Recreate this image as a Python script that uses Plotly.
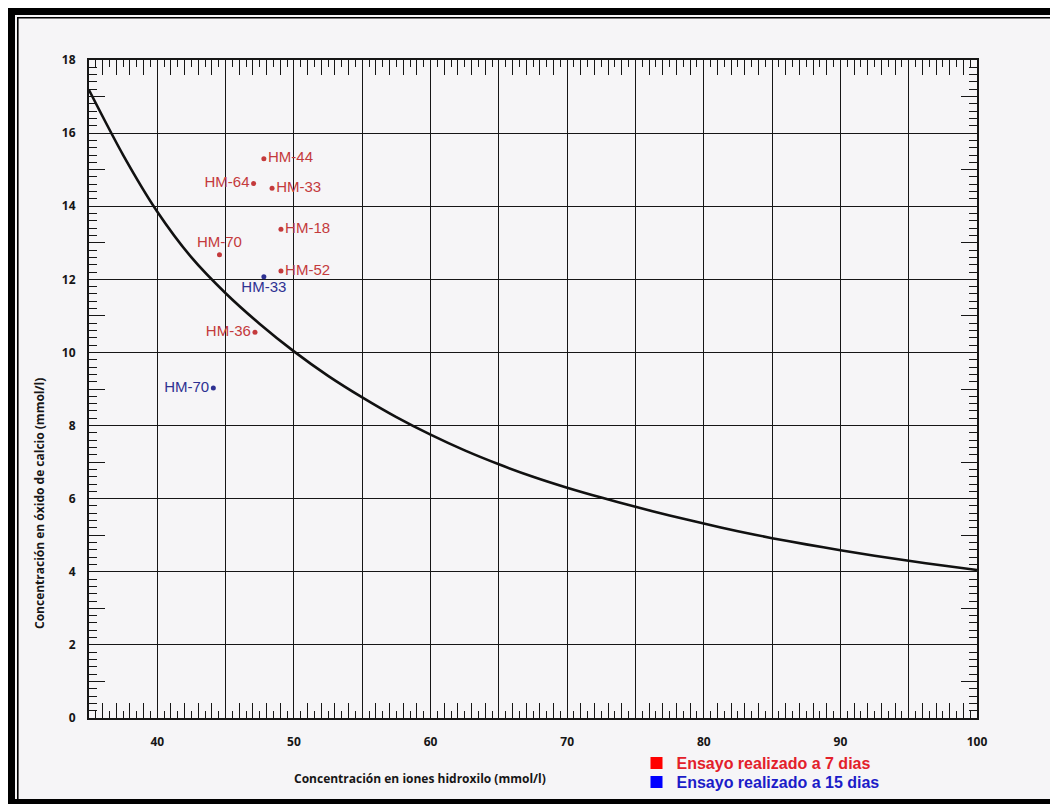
import plotly.graph_objects as go

# ---------------- data ----------------
curve_x = [35, 37.5, 40, 42.5, 45, 47.5, 50, 52.5, 55, 57.5, 60, 62.5, 65, 67.5,
           70, 72.5, 75, 77.5, 80, 82.5, 85, 87.5, 90, 92.5, 95, 97.5, 100]
curve_y = [17.18, 15.4, 13.85, 12.6, 11.62, 10.78, 10.03, 9.36, 8.77, 8.23, 7.75, 7.32, 6.94,
           6.6, 6.3, 6.03, 5.78, 5.54, 5.32, 5.11, 4.92, 4.75, 4.59, 4.44, 4.3, 4.17, 4.05]

labels_7 = ["HM-44", "HM-64", "HM-33", "HM-18", "HM-70", "HM-52", "HM-36"]
x_7 = [47.8, 47.05, 48.4, 49.05, 44.55, 49.05, 47.15]
y_7 = [15.3, 14.62, 14.49, 13.37, 12.67, 12.23, 10.55]

labels_15 = ["HM-33", "HM-70"]
x_15 = [47.8, 44.1]
y_15 = [12.07, 9.03]

legend_names = ["Ensayo realizado a 7 dias", "Ensayo realizado a 15 dias"]

x_title = "Concentración en iones hidroxilo (mmol/l)"
y_title = "Concentración en óxido de calcio (mmol/l)"

# ---------------- styling ----------------
OFF = 8                      # default body margin of the html page
PAGE_W, PAGE_H = 1058, 805
L, R, T, B = 89, 977, 60, 718   # plot area in page pixels
pos_7 = ["middle right", "middle left", "middle right", "middle right",
         "top center", "middle right", "middle left"]
pos_15 = ["bottom center", "middle left"]
RED_PT = "#c43a3c"
BLUE_PT = "#2e3192"
RED_LEG = "#e3202a"
BLUE_LEG = "#1c1cc8"
LEG_SQ_RED = "#ff0000"
LEG_SQ_BLUE = "#0000ff"
INK = "#161616"


def px_x(p):
    return (p - L) / (R - L)


def px_y(p):
    return (B - p) / (B - T)


W, H = PAGE_W - OFF, PAGE_H - OFF

fig = go.Figure()

fig.add_trace(go.Scatter(
    x=curve_x, y=curve_y, mode="lines",
    line=dict(color="#111111", width=2.6, shape="spline", smoothing=0.8),
    showlegend=False, hoverinfo="skip"))

fig.add_trace(go.Scatter(
    x=x_7, y=y_7, mode="markers+text", text=labels_7, textposition=pos_7,
    marker=dict(color=RED_PT, size=5),
    textfont=dict(family="Liberation Sans", size=15, color=RED_PT),
    showlegend=False))

fig.add_trace(go.Scatter(
    x=x_15, y=y_15, mode="markers+text", text=labels_15, textposition=pos_15,
    marker=dict(color=BLUE_PT, size=5),
    textfont=dict(family="Liberation Sans", size=15, color=BLUE_PT),
    showlegend=False))

# legend entries (square keys) on the overlay axes
fig.add_trace(go.Scatter(
    x=[None], y=[None], mode="markers", xaxis="x2", yaxis="y2", legend="legend",
    marker=dict(symbol="square", size=12, color=LEG_SQ_RED),
    name=f'<span style="color:{RED_LEG}">{legend_names[0]}</span>'))
fig.add_trace(go.Scatter(
    x=[None], y=[None], mode="markers", xaxis="x2", yaxis="y2", legend="legend2",
    marker=dict(symbol="square", size=12, color=LEG_SQ_BLUE),
    name=f'<span style="color:{BLUE_LEG}">{legend_names[1]}</span>'))

tickfont = dict(family="Open Sans", size=12, color=INK, weight="bold")
legfont = dict(family="Liberation Sans", size=16, weight="bold")

fig.update_layout(
    width=W, height=H,
    margin=dict(l=L - OFF, r=PAGE_W - R, t=T - OFF, b=PAGE_H - B, autoexpand=False),
    paper_bgcolor="#ffffff",
    plot_bgcolor="rgba(0,0,0,0)",
    showlegend=True,
    legend=dict(x=px_x(636.5), y=px_y(763), xanchor="left", yanchor="middle",
                bgcolor="rgba(0,0,0,0)", itemsizing="trace", font=legfont, itemwidth=30),
    legend2=dict(x=px_x(636.5), y=px_y(782), xanchor="left", yanchor="middle",
                 bgcolor="rgba(0,0,0,0)", itemsizing="trace", font=legfont, itemwidth=30),
    xaxis=dict(range=[35, 100], tickmode="linear", tick0=0, dtick=10,
               showgrid=True, gridcolor=INK, gridwidth=1.3,
               minor=dict(dtick=5, showgrid=True, gridcolor=INK, gridwidth=1.3, ticks=""),
               ticks="", zeroline=False, showline=True, linecolor=INK, linewidth=2,
               mirror=True, tickfont=tickfont, ticklabelstandoff=12),
    yaxis=dict(range=[0, 18], tickmode="linear", tick0=0, dtick=2,
               showgrid=True, gridcolor=INK, gridwidth=1.3,
               ticks="", zeroline=False, showline=True, linecolor=INK, linewidth=2,
               mirror=True, tickfont=tickfont, ticklabelstandoff=9),
    xaxis2=dict(range=[35, 100], overlaying="x", anchor="y2", side="bottom",
                tickmode="linear", tick0=0, dtick=1,
                ticks="inside", ticklen=15, tickwidth=1.3, tickcolor=INK,
                minor=dict(dtick=0.5, ticks="inside", ticklen=7, tickwidth=1.3,
                           tickcolor=INK, showgrid=False),
                mirror="allticks", showline=False, showgrid=False, zeroline=False,
                showticklabels=False),
    yaxis2=dict(range=[0, 18], overlaying="y", anchor="x2", side="left",
                tickmode="linear", tick0=0, dtick=1,
                ticks="inside", ticklen=16, tickwidth=1.3, tickcolor=INK,
                minor=dict(dtick=0.2, ticks="inside", ticklen=8, tickwidth=1.3,
                           tickcolor=INK, showgrid=False),
                mirror="allticks", showline=False, showgrid=False, zeroline=False,
                showticklabels=False),
)

# axis titles
fig.add_annotation(text=x_title, xref="paper", yref="paper",
                   x=px_x(420), y=px_y(779), xanchor="center", yanchor="middle",
                   showarrow=False,
                   font=dict(family="Open Sans", size=12, color=INK, weight="bold"))
fig.add_annotation(text=y_title, xref="paper", yref="paper",
                   x=px_x(40), y=px_y(504), xanchor="center", yanchor="middle",
                   textangle=-90, showarrow=False,
                   font=dict(family="Open Sans", size=12, color=INK, weight="bold"))


# page background and scanned frame (page pixel boxes -> paper coords)
def box(x0, y0, x1, y1, color, layer="above"):
    fig.add_shape(type="rect", xref="paper", yref="paper", layer=layer,
                  x0=px_x(x0), x1=px_x(x1), y0=px_y(y0), y1=px_y(y1),
                  fillcolor=color, line=dict(width=0))


box(15, 15, 1050, 799, "#f6f5f7", layer="below")
box(7, 7, 1057, 15, "#000000")        # top band
box(7, 7, 15, 804, "#000000")         # left band
box(1050, 7, 1057, 804, "#000000")    # right band
box(7, 799, 1057, 804, "#000000")     # bottom band
box(17, 17, 1050, 18.6, "#000000")    # inner top line
box(17, 17, 18.6, 799, "#000000")     # inner left line

fig.write_html("out.html")
